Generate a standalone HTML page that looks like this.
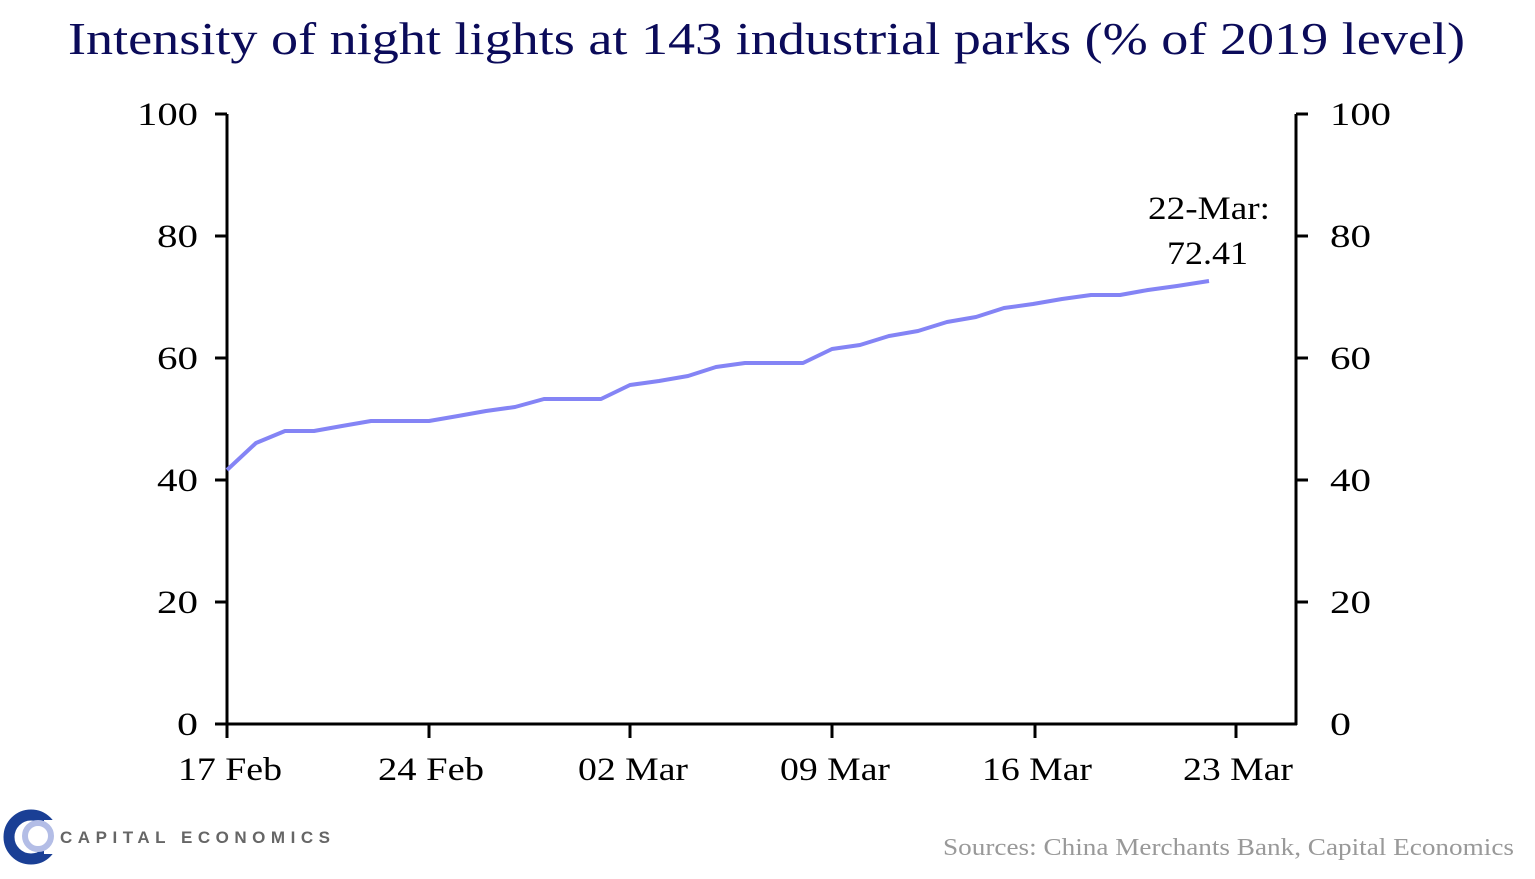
<!DOCTYPE html>
<html><head><meta charset="utf-8"><style>
body{margin:0;background:#fff;width:1535px;height:874px;overflow:hidden}
</style></head><body>
<svg width="1535" height="874" xmlns="http://www.w3.org/2000/svg" font-family="Liberation Serif, serif">
<text x="68" y="54" font-size="46" fill="#0b0b5a" textLength="1397" lengthAdjust="spacingAndGlyphs">Intensity of night lights at 143 industrial parks (% of 2019 level)</text>
<g stroke="#000" stroke-width="3" fill="none">
<line x1="227" y1="114" x2="227" y2="725"/>
<line x1="1296" y1="114" x2="1296" y2="725"/>
<line x1="226" y1="724" x2="1297" y2="724"/>
<path d="M215 114H227M215 236H227M215 358H227M215 480H227M215 602H227M215 724H227"/>
<path d="M1296 114H1308M1296 236H1308M1296 358H1308M1296 480H1308M1296 602H1308"/>
<path d="M227 724V738M429 724V738M630 724V738M832 724V738M1035 724V738M1236 724V738"/>
</g>
<g font-size="33" fill="#000">
<text x="137" y="125" textLength="61" lengthAdjust="spacingAndGlyphs">100</text>
<text x="157" y="247" textLength="41" lengthAdjust="spacingAndGlyphs">80</text>
<text x="157" y="369" textLength="41" lengthAdjust="spacingAndGlyphs">60</text>
<text x="157" y="491" textLength="41" lengthAdjust="spacingAndGlyphs">40</text>
<text x="157" y="613" textLength="41" lengthAdjust="spacingAndGlyphs">20</text>
<text x="177" y="735" textLength="21" lengthAdjust="spacingAndGlyphs">0</text>
<text x="1330" y="125" textLength="61" lengthAdjust="spacingAndGlyphs">100</text>
<text x="1330" y="247" textLength="41" lengthAdjust="spacingAndGlyphs">80</text>
<text x="1330" y="369" textLength="41" lengthAdjust="spacingAndGlyphs">60</text>
<text x="1330" y="491" textLength="41" lengthAdjust="spacingAndGlyphs">40</text>
<text x="1330" y="613" textLength="41" lengthAdjust="spacingAndGlyphs">20</text>
<text x="1330" y="735" textLength="21" lengthAdjust="spacingAndGlyphs">0</text>
<text x="178" y="780" textLength="104" lengthAdjust="spacingAndGlyphs">17 Feb</text>
<text x="378" y="780" textLength="106" lengthAdjust="spacingAndGlyphs">24 Feb</text>
<text x="578" y="780" textLength="110" lengthAdjust="spacingAndGlyphs">02 Mar</text>
<text x="780" y="780" textLength="110" lengthAdjust="spacingAndGlyphs">09 Mar</text>
<text x="982" y="780" textLength="110" lengthAdjust="spacingAndGlyphs">16 Mar</text>
<text x="1183" y="780" textLength="110" lengthAdjust="spacingAndGlyphs">23 Mar</text>
<text x="1148" y="219" textLength="122" lengthAdjust="spacingAndGlyphs">22-Mar:</text>
<text x="1167" y="264" textLength="81" lengthAdjust="spacingAndGlyphs">72.41</text>
</g>
<polyline fill="none" stroke="#8484f5" stroke-width="4" stroke-linejoin="round" points="227,470 256,443 285,431 314,431 342,426 371,421 400,421 429,421 458,416 486,411 515,407 544,399 573,399 601,399 630,385 659,381 688,376 716,367 745,363 774,363 803,363 832,349 860,345 889,336 918,331 947,322 976,317 1004,308 1033,304 1062,299 1091,295 1120,295 1148,290 1177,286 1209,281"/>
<text x="943" y="855" font-size="24" fill="#999" textLength="571" lengthAdjust="spacingAndGlyphs">Sources: China Merchants Bank, Capital Economics</text>
<circle cx="31" cy="837" r="22" fill="none" stroke="#1a3f95" stroke-width="11"/>
<rect x="44" y="820" width="16" height="34" fill="#fff"/>
<circle cx="38" cy="836" r="13" fill="none" stroke="#b3bde6" stroke-width="6"/>
<text x="60" y="843" font-family="Liberation Sans, sans-serif" font-weight="bold" font-size="17" fill="#666" textLength="270" lengthAdjust="spacing">CAPITAL ECONOMICS</text>
</svg>
</body></html>
